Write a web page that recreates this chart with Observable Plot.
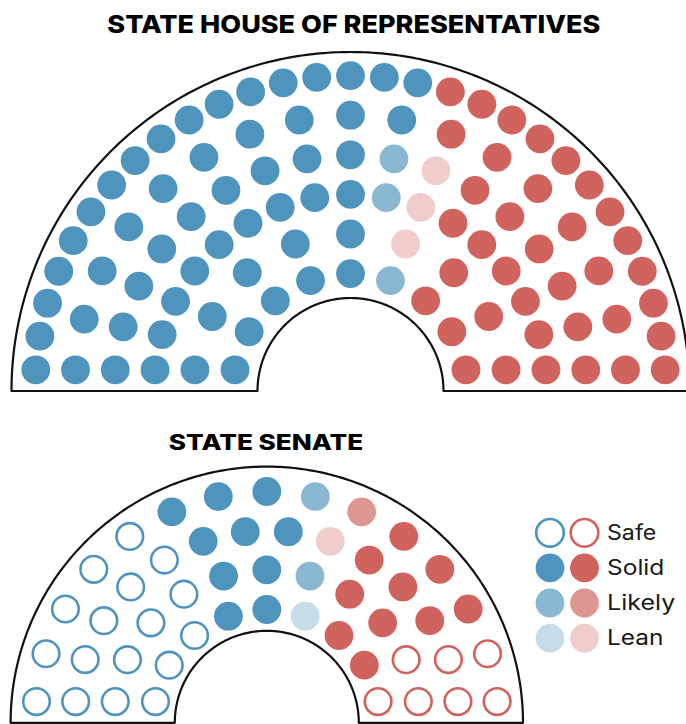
<!DOCTYPE html>
<html>
<head>
<meta charset="utf-8">
<script src="https://cdn.jsdelivr.net/npm/d3@7"></script>
<script src="https://cdn.jsdelivr.net/npm/@observablehq/plot@0.6"></script>
<style>
  html, body { margin: 0; padding: 0; background: #fff; }
  #chart svg { display: block; }
</style>
</head>
<body>
<div id="chart"></div>
<script>
// ---------------- DATA ----------------
const categories = ["Safe D", "Solid D", "Likely D", "Lean D", "Lean R", "Likely R", "Solid R", "Safe R"];
const openCategories = ["Safe D", "Safe R"];

const houseTitle = "STATE HOUSE OF REPRESENTATIVES";
// seats per row, outer row first
const houseRowSeats = [29, 17, 17, 17, 9, 9];
// left-to-right runs of ratings in each row
const houseRowRuns = [
  [["Solid D", 17], ["Solid R", 12]],
  [["Solid D", 10], ["Solid R", 7]],
  [["Solid D", 9], ["Likely D", 1], ["Lean R", 1], ["Solid R", 6]],
  [["Solid D", 9], ["Likely D", 1], ["Lean R", 1], ["Solid R", 6]],
  [["Solid D", 5], ["Lean R", 1], ["Solid R", 3]],
  [["Solid D", 5], ["Likely D", 1], ["Solid R", 3]]
];

const senateTitle = "STATE SENATE";
const senateRowSeats = [15, 14, 11, 9];
const senateRowRuns = [
  [["Safe D", 5], ["Solid D", 3], ["Likely D", 1], ["Likely R", 1], ["Solid R", 3], ["Safe R", 2]],
  [["Safe D", 5], ["Solid D", 3], ["Lean R", 1], ["Solid R", 3], ["Safe R", 2]],
  [["Safe D", 4], ["Solid D", 2], ["Likely D", 1], ["Solid R", 2], ["Safe R", 2]],
  [["Safe D", 3], ["Solid D", 2], ["Lean D", 1], ["Solid R", 2], ["Safe R", 1]]
];

const legendLabels = ["Safe", "Solid", "Likely", "Lean"];
const legendDem = ["Safe D", "Solid D", "Likely D", "Lean D"];
const legendRep = ["Safe R", "Solid R", "Likely R", "Lean R"];

// ---------------- STYLE / LAYOUT ----------------
const colorRange = ["#4f94bc", "#4f94bc", "#8ab8d3", "#c4dde9", "#f0cccb", "#de9693", "#d1635e", "#d1635e"];
const W = 686, H = 724;
const houseGeo = { cx: 350, cy: 390.5, rOuter: 339, rInner: 93, rows: [315.4, 275.8, 236.2, 196.6, 157, 117.4] };
const senateGeo = { cx: 266.3, cy: 722.3, rOuter: 256.2, rInner: 92, rows: [231.3, 192.3, 153, 113.3] };
const baseOffset = 21.2;
const seatR = 14.4;
const titleFont = "Inter, 'Open Sans', sans-serif";
const textWidths = {
  [houseTitle]: 493, [senateTitle]: 194.4,
  "Safe": 49.3, "Solid": 57.3, "Likely": 68.3, "Lean": 56.5
};

function layoutSeats(geo, rowSeats, rowRuns) {
  const out = [];
  rowSeats.forEach((n, i) => {
    const r = geo.rows[i];
    const cats = rowRuns[i].flatMap(([c, k]) => Array(k).fill(c));
    const a0 = Math.asin(baseOffset / r);
    for (let j = 0; j < n; j++) {
      const a = a0 + (Math.PI - 2 * a0) * j / (n - 1);
      out.push({ cat: cats[j], x: geo.cx - r * Math.cos(a), y: geo.cy - r * Math.sin(a) });
    }
  });
  return out;
}

function outline(geo) {
  const pts = [];
  const N = 240;
  for (let k = 0; k <= N; k++) {
    const a = Math.PI * k / N;
    pts.push({ x: geo.cx - geo.rOuter * Math.cos(a), y: geo.cy - geo.rOuter * Math.sin(a) });
  }
  for (let k = N; k >= 0; k--) {
    const a = Math.PI * k / N;
    pts.push({ x: geo.cx - geo.rInner * Math.cos(a), y: geo.cy - geo.rInner * Math.sin(a) });
  }
  pts.push(pts[0]);
  return pts;
}

const seats = [
  ...layoutSeats(houseGeo, houseRowSeats, houseRowRuns),
  ...layoutSeats(senateGeo, senateRowSeats, senateRowRuns)
];
const filledSeats = seats.filter(d => !openCategories.includes(d.cat));
const openSeats = seats.filter(d => openCategories.includes(d.cat));

const legendY0 = 532.3, legendStep = 35.1;
const legendRows = legendLabels.map((label, i) => ({ label, dem: legendDem[i], rep: legendRep[i], y: legendY0 + i * legendStep }));
const legendOpen = legendRows.filter(d => openCategories.includes(d.dem));
const legendFilled = legendRows.filter(d => !openCategories.includes(d.dem));

const chart = Plot.plot({
  width: W, height: H,
  margin: 0,
  x: { domain: [0, W], range: [0, W], axis: null },
  y: { domain: [0, H], range: [0, H], axis: null },
  color: { type: "ordinal", domain: categories, range: colorRange },
  style: { background: "#fff" },
  marks: [
    Plot.line(outline(houseGeo), { x: "x", y: "y", stroke: "#111", strokeWidth: 2.2, curve: "linear" }),
    Plot.line(outline(senateGeo), { x: "x", y: "y", stroke: "#111", strokeWidth: 2.2, curve: "linear" }),
    Plot.dot(filledSeats, { x: "x", y: "y", r: seatR, fill: "cat", stroke: null }),
    Plot.dot(openSeats, { x: "x", y: "y", r: seatR - 1.1, fill: "white", stroke: "cat", strokeWidth: 2.6 }),
    // legend
    Plot.dot(legendFilled, { x: 549.5, y: "y", r: seatR, fill: "dem" }),
    Plot.dot(legendFilled, { x: 584, y: "y", r: seatR, fill: "rep" }),
    Plot.dot(legendOpen, { x: 549.5, y: "y", r: seatR - 0.6, fill: "white", stroke: "dem", strokeWidth: 2.6 }),
    Plot.dot(legendOpen, { x: 584, y: "y", r: seatR - 0.6, fill: "white", stroke: "rep", strokeWidth: 2.6 }),
    Plot.text(legendRows, { x: 606.5, y: "y", text: "label", textAnchor: "start", fontSize: 21, fill: "#1a1a1a", fontFamily: titleFont, fontWeight: 400 }),
    // titles
    Plot.text([houseTitle], { x: 353.3, y: 24.2, text: d => d, fontSize: 24.5, fontWeight: 800, fill: "#000", fontFamily: titleFont }),
    Plot.text([senateTitle], { x: 265.5, y: 442.3, text: d => d, fontSize: 21.5, fontWeight: 800, fill: "#000", fontFamily: titleFont })
  ]
});

chart.querySelectorAll("text").forEach(t => {
  const w = textWidths[t.textContent];
  if (w) {
    t.setAttribute("textLength", w);
    t.setAttribute("lengthAdjust", "spacingAndGlyphs");
  }
});

document.getElementById("chart").appendChild(chart);
</script>
</body>
</html>
